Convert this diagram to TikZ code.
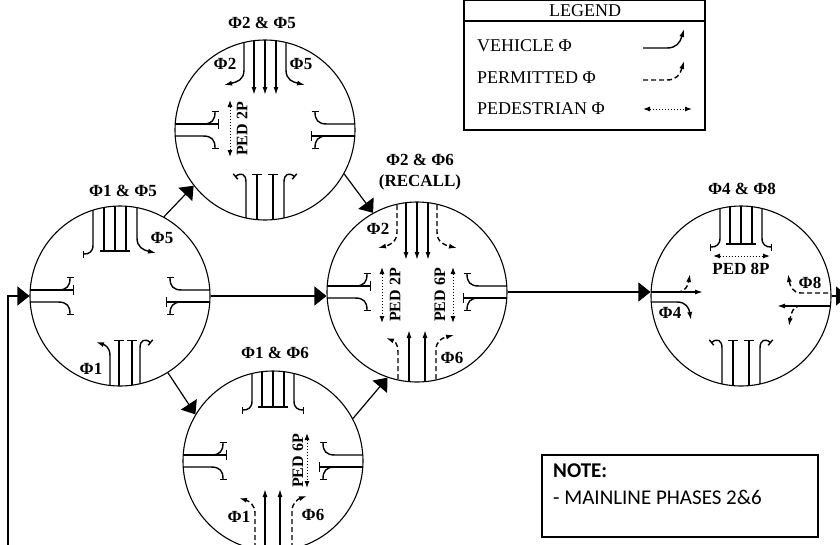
\documentclass[tikz,border=0pt]{standalone}
\usepackage{fontspec}
\setmainfont{Liberation Serif}
\newfontfamily\notefont{Carlito}
\usetikzlibrary{arrows.meta, positioning}

% stopped approaches, drawn round a ring centre
\tikzset{
  pics/weststop/.style={code={
    \draw[thrubar] (-95,-6) -- (-46,-6);
    \draw[halt] (-62,-6) .. controls (-53,-6) and (-50,-10) .. (-50,-19);
    \draw[halt] (-95,6) -- (-62,6) .. controls (-53,6) and (-50,10) .. (-50,19);
  }},
  pics/northstop/.style={code={
    \foreach \dx in {-11,0,11} \draw[lane] (\dx,-95) -- (\dx,-#1);
    \draw[lane] (-15,-#1) -- (15,-#1);
    \draw[halt] (-21,-95) -- (-21,-#1-6) .. controls (-21,-#1+1) and (-25,-#1+3) .. (-31,-#1+3);
    \draw[halt] (21,-95) -- (21,-#1-6) .. controls (21,-#1+1) and (25,-#1+3) .. (31,-#1+3);
  }},
  pics/southstop/.style={code={
    \foreach \dx in {-8,8} \draw[thrubar] (\dx,95) -- (\dx,#1);
    \draw[halt] (-19,95) -- (-19,#1+8) .. controls (-19,#1) and (-24,#1-2) .. (-30,#1+3);
    \draw[halt] (19,95) -- (19,#1+8) .. controls (19,#1) and (24,#1-2) .. (30,#1+3);
  }}
}

\begin{document}
\begin{tikzpicture}[
  x=1pt, y=-1pt,
  phase/.style={circle, draw, line width=1.1pt, minimum size=180pt, inner sep=0pt},
  flow/.style={line width=1.2pt, -{Triangle[length=12pt, width=19pt]}},
  lane/.style={line width=1.4pt},
  go/.style={lane, -{Latex[length=8pt, width=5pt]}},
  perm/.style={go, dash pattern=on 5pt off 3pt},
  halt/.style={lane, -{Bar[width=7pt]}},
  thrubar/.style={lane, -{Bar[width=10pt]}},
  ped/.style={line width=1pt, dash pattern=on 1.5pt off 1.5pt, {Latex[length=7pt, width=5pt]}-{Latex[length=7pt, width=5pt]}},
  phlabel/.style={font=\bfseries\fontsize{17}{18}\selectfont},
  pedlabel/.style={font=\bfseries\fontsize{16}{17}\selectfont, rotate=90},
  legtext/.style={font=\fontsize{18}{20}\selectfont, anchor=west, inner sep=0pt}
]
\useasboundingbox (0,0) rectangle (840,544);

% Phase rings
\node[phase] (L) at (120,296) {};
\node[phase] (T) at (265,130) {};
\node[phase] (C) at (417,292) {};
\node[phase] (B) at (273,461) {};
\node[phase] (R) at (741,296) {};

% Ring titles
\node[phlabel] (titleL) at (123,191) {Φ1 \& Φ5};
\node[phlabel] (titleT) at (262,23) {Φ2 \& Φ5};
\node[phlabel] (titleC) at (420,160) {Φ2 \& Φ6};
\node[phlabel] (recallC) at (420,182) {(RECALL)};
\node[phlabel] (titleB) at (275,353) {Φ1 \& Φ6};
\node[phlabel] (titleR) at (742,189) {Φ4 \& Φ8};

% Sequence arrows
\draw[flow] (L.61) -- (T.218);
\draw[flow] (L.east) -- (L.east -| C.west);
\draw[flow] (L.-58) -- (B.149);
\draw[flow] (T.-29) -- (C.119);
\draw[flow] (B.28) -- (C.251);
\draw[flow] (C.east) -- (C.east -| R.west);
\coordinate (exitR) at (848,296);
\draw[flow] (R.east) -- (exitR);
\coordinate (loopin) at (8,560);
\draw[flow] (loopin) |- (L.west);

% Ring L: phi1 & phi5
\begin{scope}[shift={(L.center)}]
  \begin{scope}
    \clip (0,0) circle (90);
    \foreach \dx in {-16,-5,6} \draw[lane] (\dx,-95) -- (\dx,-45);
    \draw[lane] (-20,-45) -- (10,-45);
    \draw[halt] (-27,-95) -- (-27,-51) .. controls (-27,-44) and (-31,-42) .. (-37,-42);
    \draw[go] (17,-95) -- (17,-58) .. controls (17,-49) and (23,-46) .. (36,-43);
    \pic {weststop};
    \pic[rotate=180] {weststop};
    \draw[go] (-10,95) -- (-10,60) .. controls (-10,51) and (-15,49) .. (-24,46);
    \foreach \dx in {-1,12} \draw[thrubar] (\dx,95) -- (\dx,44);
    \draw[halt] (20,95) -- (20,52) .. controls (20,44) and (25,42) .. (31,47);
  \end{scope}
  \node[phlabel] (phL5) at (42,-58) {Φ5};
  \node[phlabel] (phL1) at (-29,73) {Φ1};
\end{scope}

% Ring T: phi2 & phi5
\begin{scope}[shift={(T.center)}]
  \begin{scope}
    \clip (0,0) circle (90);
    \foreach \dx in {-11,0,11} \draw[go] (\dx,-95) -- (\dx,-35);
    \draw[go] (-21,-95) -- (-21,-60) .. controls (-21,-50) and (-28,-48) .. (-41,-45);
    \draw[go] (21,-95) -- (21,-60) .. controls (21,-50) and (28,-48) .. (40,-45);
    \pic {weststop};
    \pic[rotate=180] {weststop};
    \pic {southstop=44};
  \end{scope}
  \draw[ped] (-35,-30) -- (-35,27);
  \node[pedlabel] (pedT) at (-23,-1) {PED 2P};
  \node[phlabel] (phT2) at (-40,-66) {Φ2};
  \node[phlabel] (phT5) at (36,-66) {Φ5};
\end{scope}

% Ring C: phi2 & phi6 (recall)
\begin{scope}[shift={(C.center)}]
  \begin{scope}
    \clip (0,0) circle (90);
    \foreach \dx in {-11,0,11} \draw[go] (\dx,-95) -- (\dx,-32);
    \draw[perm] (-20,-95) -- (-20,-60) .. controls (-20,-50) and (-27,-47) .. (-39,-44);
    \draw[perm] (20,-95) -- (20,-60) .. controls (20,-50) and (27,-47) .. (40,-44);
    \pic {weststop};
    \pic[rotate=180] {weststop};
    \foreach \dx in {-8,8} \draw[go] (\dx,95) -- (\dx,38);
    \draw[perm] (-19,95) -- (-19,60) .. controls (-19,51) and (-23,49) .. (-31,46);
    \draw[perm] (19,95) -- (19,58) .. controls (19,49) and (25,46) .. (37,43);
  \end{scope}
  \draw[ped] (-35,-25) -- (-35,31);
  \draw[ped] (36,-25) -- (36,31);
  \node[pedlabel] (pedC2) at (-22,3) {PED 2P};
  \node[pedlabel] (pedC6) at (23,3) {PED 6P};
  \node[phlabel] (phC2) at (-39,-63) {Φ2};
  \node[phlabel] (phC6) at (35,66) {Φ6};
\end{scope}

% Ring B: phi1 & phi6
\begin{scope}[shift={(B.center)}]
  \begin{scope}
    \clip (0,0) circle (90);
    \pic {northstop=54};
    \pic {weststop};
    \pic[rotate=180] {weststop};
    \foreach \dx in {-8,7} \draw[go] (\dx,95) -- (\dx,28);
    \draw[perm] (-18,95) -- (-18,52) .. controls (-18,44) and (-24,40) .. (-34,37);
    \draw[perm] (19,95) -- (19,50) .. controls (19,42) and (25,38) .. (34,35);
  \end{scope}
  \draw[ped] (34,-28) -- (34,27);
  \node[pedlabel] (pedB6) at (25,0) {PED 6P};
  \node[phlabel] (phB1) at (-34,56) {Φ1};
  \node[phlabel] (phB6) at (40,54) {Φ6};
\end{scope}

% Ring R: phi4 & phi8
\begin{scope}[shift={(R.center)}]
  \begin{scope}
    \clip (0,0) circle (90);
    \pic {northstop=52};
    \draw[go] (-95,-4) -- (-38,-4);
    \draw[perm] (-64,-4) .. controls (-56,-4) and (-53,-10) .. (-51,-22);
    \draw[go] (-95,6) -- (-64,6) .. controls (-55,6) and (-52,12) .. (-50,24);
    \draw[perm] (95,-3) -- (60,-3) .. controls (52,-3) and (49,-10) .. (47,-22);
    \draw[go] (95,10) -- (36,10);
    \draw[perm] (60,10) .. controls (52,10) and (50,17) .. (48,30);
    \pic {southstop=44};
  \end{scope}
  \draw[ped] (-28,-40) -- (29,-40);
  \node[phlabel] (pedR8) at (0,-27) {PED 8P};
  \node[phlabel] (phR4) at (-71,17) {Φ4};
  \node[phlabel] (phR8) at (69,-13) {Φ8};
\end{scope}

% Legend
\draw[line width=1.1pt] (464,0.5) rectangle (705,130);
\draw[line width=1.1pt] (464,21) -- (705,21);
\node[font=\fontsize{18}{20}\selectfont] (legtitle) at (585,11) {LEGEND};
\node[legtext] (legveh) at (477,46) {VEHICLE Φ};
\node[legtext] (legperm) at (477,78) {PERMITTED Φ};
\node[legtext] (legped) at (477,109) {PEDESTRIAN Φ};
\draw[go] (643,48) -- (667,48) .. controls (676,48) and (680,43) .. (684,29);
\draw[perm] (643,80) -- (667,80) .. controls (676,80) and (680,75) .. (684,61);
\draw[ped] (643,109) -- (692,109);

% Note
\draw[line width=1.1pt] (542,455) rectangle (818,537);
\node[font=\notefont\bfseries\fontsize{21}{24}\selectfont, anchor=west, inner sep=0pt] (notehead) at (553,471) {NOTE:};
\node[font=\notefont\fontsize{21}{24}\selectfont, anchor=west, inner sep=0pt] (notebody) at (553,497) {- MAINLINE PHASES 2\&6};

\end{tikzpicture}
\end{document}
